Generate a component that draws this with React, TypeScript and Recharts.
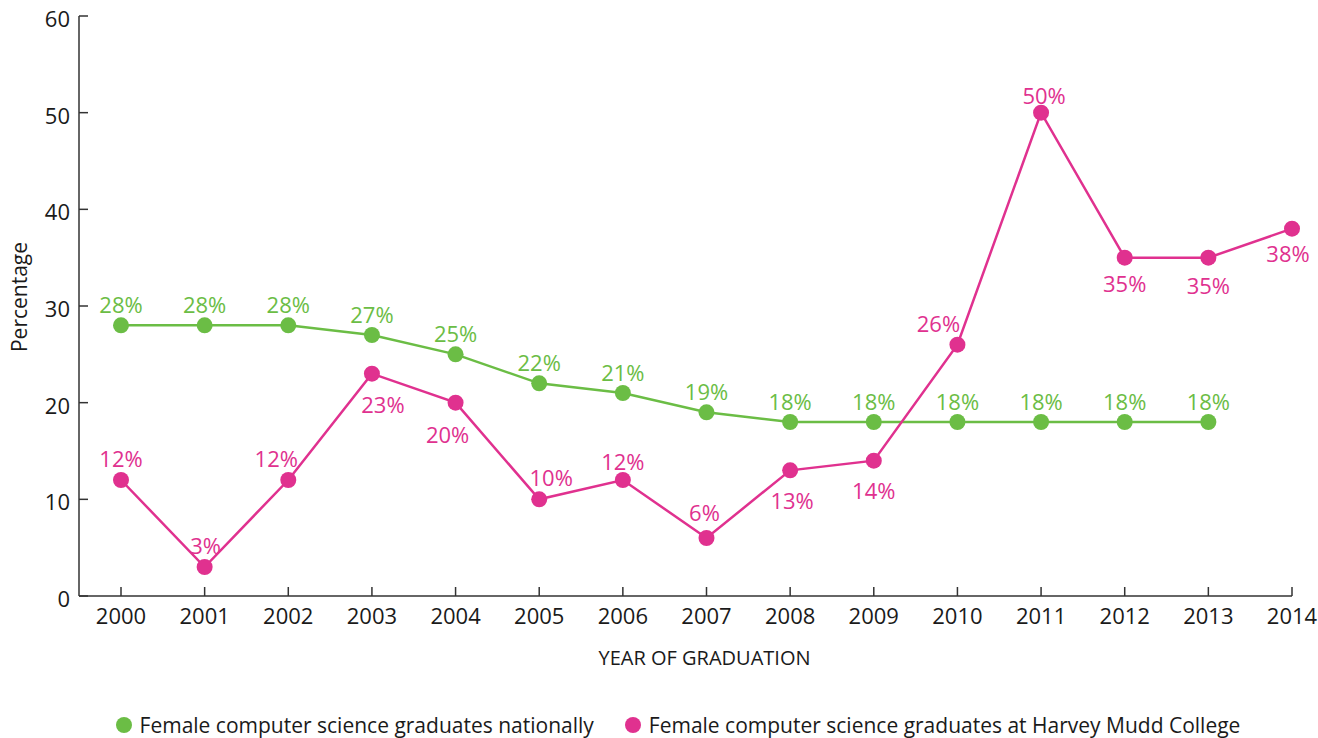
import React from 'react';
import {
  LineChart,
  Line,
  XAxis,
  YAxis,
  Legend,
  LabelList,
  Label,
} from 'recharts';

const years = [
  '2000', '2001', '2002', '2003', '2004', '2005', '2006', '2007',
  '2008', '2009', '2010', '2011', '2012', '2013', '2014',
];
const nationalShare = [28, 28, 28, 27, 25, 22, 21, 19, 18, 18, 18, 18, 18, 18, null];
const harveyMuddShare = [12, 3, 12, 23, 20, 10, 12, 6, 13, 14, 26, 50, 35, 35, 38];
const yTicks = [0, 10, 20, 30, 40, 50, 60];

const seriesNames = {
  national: 'Female computer science graduates nationally',
  mudd: 'Female computer science graduates at Harvey Mudd College',
};

// where each pink label sits relative to its dot
const muddLabelOffset: [number, number][] = [
  [0, -22], [1, -22], [-12, -22], [11, 30], [-8, 31], [12, -22], [0, -19], [-2, -26],
  [2, 30], [0, 29], [-19, -22], [3, -18], [0, 25], [0, 27], [-4, 24],
];

const GREEN = '#6bbd45';
const PINK = '#e0318f';
const INK = '#1a1a1a';
const FONT = '"Open Sans", sans-serif';

const data = years.map((year, i) => ({
  year,
  national: nationalShare[i],
  mudd: harveyMuddShare[i],
}));

const XTick = (props: any) => {
  const { x, y, payload } = props;
  return (
    <g>
      <line x1={x} y1={y} x2={x} y2={y - 9} stroke="#333" strokeWidth={1.5} />
      <text
        x={x}
        y={y + 19}
        textAnchor="middle"
        dominantBaseline="central"
        fill={INK}
        fontSize={22}
        fontFamily={FONT}
      >
        {payload.value}
      </text>
    </g>
  );
};

const YTick = (props: any) => {
  const { x, y, payload } = props;
  return (
    <g>
      <line x1={x} y1={y} x2={x + 9} y2={y} stroke="#333" strokeWidth={1.5} />
      <text
        x={x - 9}
        y={y + 2}
        textAnchor="end"
        dominantBaseline="central"
        fill={INK}
        fontSize={22}
        fontFamily={FONT}
      >
        {payload.value}
      </text>
    </g>
  );
};

const makeLabel = (color: string, offsets?: [number, number][]) => (props: any) => {
  const { x = 0, y = 0, value, index = 0 } = props;
  if (value === null || value === undefined) return null;
  const [dx, dy] = offsets ? offsets[index] : [0, -21];
  return (
    <text
      x={x + dx}
      y={y + dy}
      textAnchor="middle"
      dominantBaseline="central"
      fill={color}
      fontSize={22}
      fontFamily={FONT}
    >
      {`${value}%`}
    </text>
  );
};

const renderLegend = () => {
  const items = [
    { name: seriesNames.national, color: GREEN },
    { name: seriesNames.mudd, color: PINK },
  ];
  return (
    <div
      style={{
        display: 'flex',
        justifyContent: 'center',
        alignItems: 'center',
        gap: '31px',
        height: '26px',
        paddingLeft: '64px',
        fontFamily: FONT,
        fontSize: '21px',
        color: INK,
      }}
    >
      {items.map((item) => (
        <div key={item.name} style={{ display: 'flex', alignItems: 'center' }}>
          <svg width={16} height={16} style={{ marginRight: 8 }}>
            <circle cx={8} cy={8} r={8} fill={item.color} />
          </svg>
          <span>{item.name}</span>
        </div>
      ))}
    </div>
  );
};

const App: React.FC = () => {
  return (
    <div style={{ position: 'absolute', left: 0, top: 0 }}>
      <LineChart
        width={1318}
        height={738}
        data={data}
        margin={{ top: 16, right: 26, left: 0, bottom: 0 }}
      >
        <XAxis
          dataKey="year"
          interval={0}
          height={116}
          padding={{ left: 42, right: 0 }}
          tickLine={false}
          tickSize={0}
          tickMargin={0}
          tick={<XTick />}
          axisLine={{ stroke: '#333', strokeWidth: 1.5 }}
        >
          <Label
            content={(p: any) => {
              const vb = p.viewBox || { x: 79, y: 596, width: 1213 };
              return (
                <text
                  x={vb.x + vb.width / 2 + 19}
                  y={vb.y + 61}
                  textAnchor="middle"
                  dominantBaseline="central"
                  fill={INK}
                  fontSize={20}
                  fontFamily={FONT}
                >
                  YEAR OF GRADUATION
                </text>
              );
            }}
          />
        </XAxis>
        <YAxis
          width={79}
          domain={[0, 60]}
          ticks={yTicks}
          tickLine={false}
          tickSize={0}
          tickMargin={0}
          tick={<YTick />}
          axisLine={{ stroke: '#333', strokeWidth: 1.5 }}
        >
          <Label
            content={(p: any) => {
              const vb = p.viewBox || { x: 0, y: 16, height: 580 };
              const cx = vb.x + 19;
              const cy = vb.y + vb.height / 2 - 9;
              return (
                <text
                  x={cx}
                  y={cy}
                  transform={`rotate(-90 ${cx} ${cy})`}
                  textAnchor="middle"
                  dominantBaseline="central"
                  fill={INK}
                  fontSize={21}
                  fontFamily={FONT}
                >
                  Percentage
                </text>
              );
            }}
          />
        </YAxis>
        <Legend verticalAlign="bottom" content={renderLegend} />
        <Line
          dataKey="national"
          name={seriesNames.national}
          stroke={GREEN}
          strokeWidth={2.5}
          dot={{ r: 8, fill: GREEN, stroke: 'none' }}
          activeDot={false}
          isAnimationActive={false}
        >
          <LabelList dataKey="national" content={makeLabel(GREEN)} />
        </Line>
        <Line
          dataKey="mudd"
          name={seriesNames.mudd}
          stroke={PINK}
          strokeWidth={2.5}
          dot={{ r: 8, fill: PINK, stroke: 'none' }}
          activeDot={false}
          isAnimationActive={false}
        >
          <LabelList dataKey="mudd" content={makeLabel(PINK, muddLabelOffset)} />
        </Line>
      </LineChart>
    </div>
  );
};

export default App;
